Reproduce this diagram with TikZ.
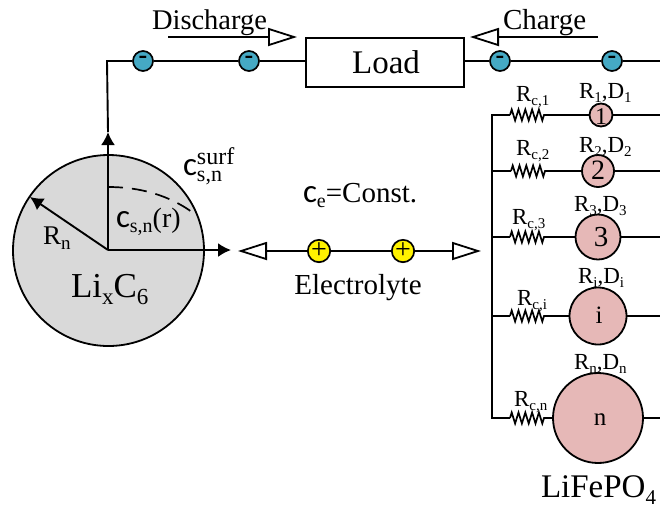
\documentclass[tikz,border=0pt]{standalone}
\usepackage{fontspec}
\setmainfont{Liberation Serif}
\newfontfamily\cfont{Carlito}
\usetikzlibrary{arrows.meta,decorations.pathmorphing}
\newcommand{\fsz}[1]{\fontsize{#1}{#1}\selectfont}
\newcommand{\lowered}[2]{\raisebox{-0.2em}{\fsz{#1}#2}}
\newcommand{\RS}[2]{\fsz{23}R\lowered{15}{#1},D\lowered{15}{#2}}
\newcommand{\Rc}[1]{\fsz{23}R\lowered{15}{c,#1}}
\tikzset{
  x=1pt,y=-1pt,
  wire/.style={line width=1.9pt,line cap=butt},
  ion/.style={circle,draw=black,line width=1.7pt,minimum size=20pt,inner sep=0pt},
  minusion/.style={ion,fill=ionblue,font=\bfseries\fontsize{26}{26}\selectfont},
  plusion/.style={ion,fill=yellow,font=\fontsize{28}{28}\selectfont},
  particle/.style={circle,draw=black,line width=1.8pt,fill=pinkp,inner sep=0pt},
  lab/.style={anchor=base west,inner sep=0pt,outer sep=0pt},
  labc/.style={anchor=base,inner sep=0pt,outer sep=0pt},
  solidtip/.style={-{Latex[length=13pt,width=14pt]}},
  opentip/.style={-{Triangle[open,length=29pt,width=18pt,fill=white,line width=1.8pt]}},
  opentipb/.style={{Triangle[open,length=29pt,width=18pt,fill=white,line width=1.8pt]}-},
  resistor/.style={line width=1.7pt,decorate,decoration={zigzag,segment length=6.8pt,amplitude=5.5pt}}
}
\definecolor{ionblue}{HTML}{45A9C4}
\definecolor{pinkp}{HTML}{E6B8B7}
\definecolor{grayc}{HTML}{D9D9D9}
\begin{document}
\begin{tikzpicture}
\useasboundingbox (0,0) rectangle (660,507);
% anode
\node[circle,draw=black,line width=1.8pt,fill=grayc,minimum size=191pt,inner sep=0pt] (anode) at (108.5,250.5) {};
\coordinate (cen) at (108,250);
\coordinate (topt) at (108,132);
\coordinate (corner) at (107,61);
\coordinate (rimpt) at (30,197);
\coordinate (rpt) at (231,250);
% top wire
\node[minusion] (m1) at (143,61) {\raisebox{1.5pt}{-}};
\node[minusion] (m2) at (249,61) {\raisebox{1.5pt}{-}};
\node[draw=black,line width=1.9pt,minimum width=158pt,minimum height=49pt,inner sep=0pt] (load) at (385,62.5) {};
\node[minusion] (m3) at (500,61) {\raisebox{1.5pt}{-}};
\node[minusion] (m4) at (612,61) {\raisebox{1.5pt}{-}};
\coordinate (rtop) at (660,61);
\draw[wire] (topt) -- (corner) -- (m1);
\draw[wire] (m1) -- (m2);
\draw[wire] (m2) -- (m2-|load.west);
\draw[wire] (m3-|load.east) -- (m3);
\draw[wire] (m3) -- (m4);
\draw[wire] (m4) -- (rtop);
% anode arrows
\draw[wire,solidtip] (cen) -- (topt);
\draw[wire,solidtip] (cen) -- (rimpt);
\draw[wire,solidtip] (cen) -- (rpt);
\coordinate (dashs) at (108,187);
\coordinate (dashe) at (196,215);
\draw[line width=1.7pt,dash pattern=on 15pt off 9pt] (dashs) .. controls (140,187) and (170,195) .. (dashe);
% direction arrows
\coordinate (ds) at (168,37); \coordinate (de) at (297,37);
\coordinate (cs) at (598,37); \coordinate (ce) at (470,37);
\draw[wire,opentip] (ds) -- (de);
\draw[wire,opentip] (cs) -- (ce);
% electrolyte
\node[plusion] (p1) at (319,251) {\raisebox{-1pt}{+}};
\node[plusion] (p2) at (403,251) {\raisebox{-1pt}{+}};
\coordinate (el) at (238,251); \coordinate (er) at (481,251);
\draw[wire,opentipb] (el) -- (p1);
\draw[wire] (p1) -- (p2);
\draw[wire,opentip] (p2) -- (er);
% cathode particles
\node[particle,minimum size=23pt] (c1) at (601,115) {};
\node[particle,minimum size=32pt] (c2) at (598,171) {};
\node[particle,minimum size=45pt] (c3) at (598,237) {};
\node[particle,minimum size=57pt] (c4) at (598,316) {};
\node[particle,minimum size=90pt] (c5) at (598,418) {};
\coordinate (b1) at (492,115);
\coordinate (b5) at (492,418);
\draw[wire,line cap=rect] (b1) -- (b5);
\foreach \n/\yy/\ra in {1/115/510,2/171/511,3/237/510,4/316/510,5/418/510}{
  \coordinate (bus\n) at (492,\yy);
  \coordinate (ra\n) at (\ra,\yy);
  \coordinate (rb\n) at (\ra+34,\yy);
  \coordinate (end\n) at (660,\yy);
  \draw[wire] (bus\n) -- (ra\n);
  \draw[resistor] (ra\n) -- (rb\n);
  \draw[wire] (rb\n) -- (c\n);
  \draw[wire] (c\n) -- (end\n);
}
% texts
\node[lab,font=\fsz{28.5}] (tdis) at (152,29) {Discharge};
\node[lab,font=\fsz{29}] (tchg) at (503,29) {Charge};
\node[labc,font=\fsz{33}] (tload) at (386,73) {Load};
\node[lab] (tce) at (303,202) {\fsz{29}{\fsz{33}\cfont c}\lowered{20}{e}=Const.};
\node[labc,font=\fsz{29}] (tel) at (358,294) {Electrolyte};
\node[lab] (tlix) at (71,297) {\fsz{35}Li\lowered{23}{x}C\lowered{23}{6}};
\node[lab] (trn) at (43,244) {\fsz{27}R\lowered{19}{n}};
\node[lab] (tcsn) at (116,227) {\fsz{28}{\fsz{33}\cfont c}\lowered{20}{s,n}(r)};
\node[lab] (tsurf) at (183,175) {{\fsz{33}\cfont c}\rlap{\raisebox{11pt}{\fsz{24}surf}}\raisebox{-6pt}{\fsz{22}s,n}};
\node[lab] (tlfp) at (541,497.5) {\fsz{33}LiFePO\lowered{21}{4}};
\node[lab] (l1) at (516,101) {\Rc{1}};
\node[lab] (l2) at (516,155) {\Rc{2}};
\node[lab] (l3) at (512,224) {\Rc{3}};
\node[lab] (l4) at (517,305) {\Rc{i}};
\node[lab] (l5) at (514,406) {\Rc{n}};
\node[lab] (d1) at (579,98) {\RS{1}{1}};
\node[lab] (d2) at (579,152) {\RS{2}{2}};
\node[lab] (d3) at (574,211) {\RS{3}{3}};
\node[lab] (d4) at (578,283) {\RS{i}{i}};
\node[lab] (d5) at (574,369) {\RS{n}{n}};
\node[labc,font=\fsz{24}] (n1) at (601,124) {1};
\node[labc,font=\fsz{28}] (n2) at (598,179) {2};
\node[labc,font=\fsz{29}] (n3) at (601,246) {3};
\node[labc,font=\fsz{25}] (n4) at (599,323) {i};
\node[labc,font=\fsz{25}] (n5) at (600,425) {n};
\end{tikzpicture}
\end{document}
